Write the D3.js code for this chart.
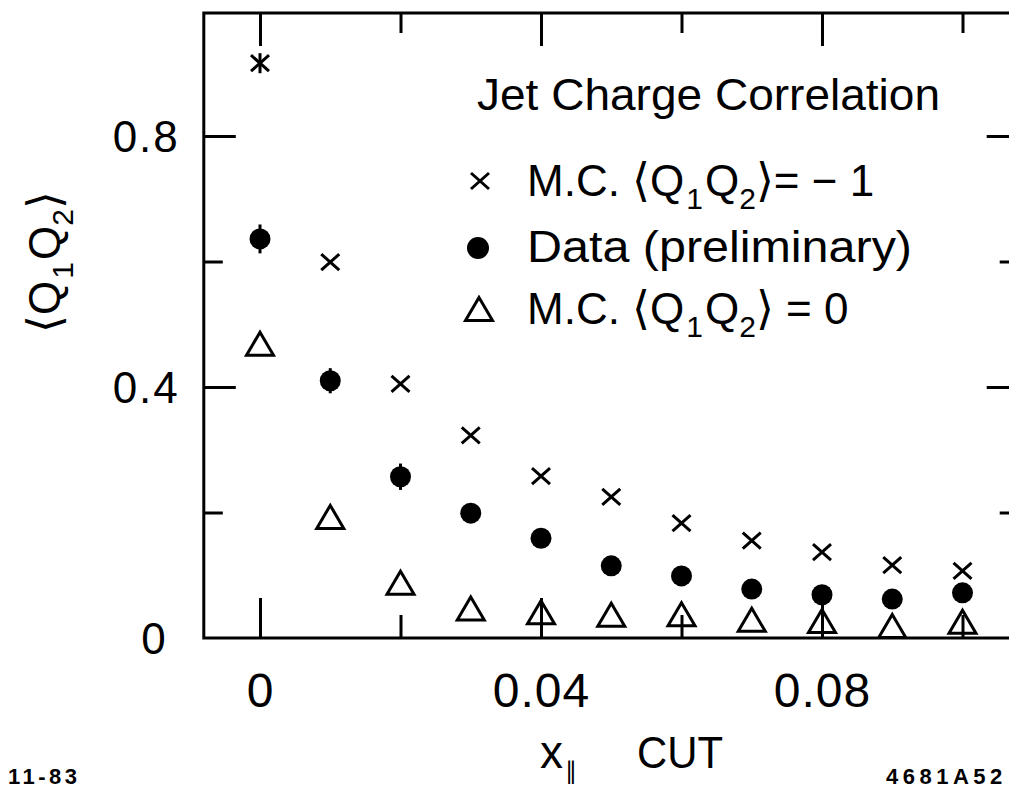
<!DOCTYPE html>
<html>
<head>
<meta charset="utf-8">
<script src="https://cdn.jsdelivr.net/npm/d3@7"></script>
<style>
  body { margin: 0; background: #fff; }
  svg { display: block; }
  text { fill: #000; font-family: "Liberation Sans", Arial, sans-serif; }
</style>
</head>
<body>
<svg id="chart" width="1009" height="789"></svg>
<script>
// x_parallel cut values
const xCut = [0, 0.01, 0.02, 0.03, 0.04, 0.05, 0.06, 0.07, 0.08, 0.09, 0.10];

// M.C. with <Q1Q2> = -1 (crosses)
const mcMinusOne    = [0.916, 0.599, 0.405, 0.323, 0.258, 0.225, 0.183, 0.155, 0.137, 0.116, 0.107];
const mcMinusOneErr = [0.016, 0, 0, 0, 0, 0, 0, 0, 0, 0, 0];

// Data, preliminary (filled circles)
const dataQQ  = [0.636, 0.410, 0.257, 0.199, 0.159, 0.115, 0.099, 0.078, 0.069, 0.062, 0.072];
const dataErr = [0.023, 0.020, 0.021, 0.014, 0.013, 0.012, 0.012, 0.012, 0.012, 0.012, 0.012];

// M.C. with <Q1Q2> = 0 (open triangles)
const mcZero = [0.469, 0.193, 0.088, 0.047, 0.041, 0.037, 0.038, 0.029, 0.027, 0.019, 0.026];

// Axis ticks and labels
const yMajorTicks = [0.4, 0.8];
const yMinorTicks = [0.2, 0.6];
const yLabelTicks = [0, 0.4, 0.8];
const xMajorTicks = [0, 0.04, 0.08];
const xMinorTicks = [0.02, 0.06, 0.10];
const xLabelTicks = [0, 0.04, 0.08];

const svg = d3.select("#chart");

const x = d3.scaleLinear().domain([0, 0.10]).range([260, 962.5]);
const y = d3.scaleLinear().domain([0, 0.8]).range([638, 136]);

// frame extents in data units
const xLo = -0.008, xHi = 0.108, yLo = 0, yHi = 0.996;
const fx0 = x(xLo), fx1 = x(xHi), fy0 = y(yLo), fy1 = y(yHi);

const fmt = d => d === 0 ? "0" : d3.format(".2~f")(d);

// --- tick marks (drawn first, markers sit over them) ---
function tickAxis(axis, transform) {
  const g = svg.append("g").attr("transform", transform).call(axis);
  g.select(".domain").remove();
  g.selectAll(".tick line").attr("stroke", "#000").attr("stroke-width", 3);
  g.selectAll(".tick text").remove();
  return g;
}
tickAxis(d3.axisLeft(y).tickValues(yMajorTicks).tickSize(-32), `translate(${fx0},0)`);
tickAxis(d3.axisLeft(y).tickValues(yMinorTicks).tickSize(-19), `translate(${fx0},0)`);
tickAxis(d3.axisRight(y).tickValues(yMajorTicks).tickSize(-32), `translate(${fx1},0)`);
tickAxis(d3.axisRight(y).tickValues(yMinorTicks).tickSize(-19), `translate(${fx1},0)`);
tickAxis(d3.axisTop(x).tickValues(xMajorTicks).tickSize(-33), `translate(0,${fy1})`);
tickAxis(d3.axisTop(x).tickValues(xMinorTicks).tickSize(-20), `translate(0,${fy1})`);
tickAxis(d3.axisBottom(x).tickValues(xMajorTicks).tickSize(-40), `translate(0,${fy0})`);
tickAxis(d3.axisBottom(x).tickValues(xMinorTicks).tickSize(-23), `translate(0,${fy0})`);

// frame
svg.append("rect")
  .attr("x", fx0).attr("y", fy1)
  .attr("width", fx1 - fx0).attr("height", fy0 - fy1)
  .attr("fill", "none").attr("stroke", "#000").attr("stroke-width", 3);

// --- tick labels ---
const yLab = svg.append("g").attr("transform", `translate(${fx0},0)`)
  .call(d3.axisLeft(y).tickValues(yLabelTicks).tickSize(0).tickPadding(24).tickFormat(fmt));
yLab.select(".domain").remove();
yLab.selectAll(".tick text")
  .attr("font-size", 44).attr("font-family", "Liberation Sans, Arial, sans-serif")
  .attr("letter-spacing", 2)
  .attr("dy", "0.36em")
  .attr("dx", d => d === 0 ? -12 : 0);

const xLab = svg.append("g").attr("transform", `translate(0,${fy0})`)
  .call(d3.axisBottom(x).tickValues(xLabelTicks).tickSize(0).tickPadding(35).tickFormat(fmt));
xLab.select(".domain").remove();
xLab.selectAll(".tick text")
  .attr("font-size", 48).attr("font-family", "Liberation Sans, Arial, sans-serif")
  .attr("letter-spacing", 1);

// --- markers ---
const crossPath = "M-9,-8L9,8M-9,8L9,-8";
const triPath = "M0,-11.5L13.5,11.5L-13.5,11.5Z";

const pts = xCut.map((c, i) => ({
  c, mc1: mcMinusOne[i], mc1e: mcMinusOneErr[i],
  d: dataQQ[i], de: dataErr[i], mc0: mcZero[i]
}));

const marks = svg.append("g");

// error bars
marks.selectAll("line.err-d").data(pts).join("line")
  .attr("x1", p => x(p.c)).attr("x2", p => x(p.c))
  .attr("y1", p => y(p.d - p.de)).attr("y2", p => y(p.d + p.de))
  .attr("stroke", "#000").attr("stroke-width", 3);
marks.selectAll("line.err-mc1").data(pts.filter(p => p.mc1e > 0)).join("line")
  .attr("x1", p => x(p.c)).attr("x2", p => x(p.c))
  .attr("y1", p => y(p.mc1 - p.mc1e)).attr("y2", p => y(p.mc1 + p.mc1e))
  .attr("stroke", "#000").attr("stroke-width", 3);

marks.selectAll("path.mc0").data(pts).join("path")
  .attr("d", triPath)
  .attr("transform", p => `translate(${x(p.c)},${y(p.mc0)})`)
  .attr("fill", "none").attr("stroke", "#000").attr("stroke-width", 3)
  .attr("stroke-linejoin", "miter");

marks.selectAll("circle.data").data(pts).join("circle")
  .attr("cx", p => x(p.c)).attr("cy", p => y(p.d)).attr("r", 10.5)
  .attr("fill", "#000");

marks.selectAll("path.mc1").data(pts).join("path")
  .attr("d", crossPath)
  .attr("transform", p => `translate(${x(p.c)},${y(p.mc1)})`)
  .attr("fill", "none").attr("stroke", "#000").attr("stroke-width", 3);

// --- legend ---
const lg = svg.append("g");
const bracket = "DejaVu Sans, sans-serif";

lg.append("text").attr("x", 477).attr("y", 110).attr("font-size", 44)
  .attr("textLength", 463).attr("lengthAdjust", "spacingAndGlyphs")
  .text("Jet Charge Correlation");

lg.append("path").attr("d", crossPath).attr("transform", "translate(480,181)")
  .attr("fill", "none").attr("stroke", "#000").attr("stroke-width", 3);
lg.append("circle").attr("cx", 478).attr("cy", 248).attr("r", 11).attr("fill", "#000");
lg.append("path").attr("d", triPath).attr("transform", "translate(479,309)")
  .attr("fill", "none").attr("stroke", "#000").attr("stroke-width", 3);

function qq(t, tail) {
  t.append("tspan").text("M.C. ");
  t.append("tspan").attr("font-family", bracket).attr("font-size", 46).text("⟨");
  t.append("tspan").text("Q");
  t.append("tspan").attr("font-size", 30).attr("dy", 13).attr("dx", 2).text("1");
  t.append("tspan").attr("dy", -13).attr("dx", 2).text("Q");
  t.append("tspan").attr("font-size", 30).attr("dy", 13).text("2");
  t.append("tspan").attr("font-family", bracket).attr("font-size", 46).attr("dy", -13).text("⟩");
  t.append("tspan").text(tail);
}
const row1 = lg.append("text").attr("x", 527).attr("y", 196).attr("font-size", 44);
qq(row1, "= − 1");
lg.append("text").attr("x", 527).attr("y", 262).attr("font-size", 44)
  .attr("textLength", 385).attr("lengthAdjust", "spacingAndGlyphs")
  .text("Data (preliminary)");
const row3 = lg.append("text").attr("x", 527).attr("y", 324).attr("font-size", 44);
qq(row3, " = 0");

// --- axis titles ---
const yt = svg.append("text").attr("transform", "translate(60,262) rotate(-90)")
  .attr("text-anchor", "middle").attr("font-size", 44);
yt.append("tspan").attr("font-family", bracket).attr("font-size", 46).text("⟨");
yt.append("tspan").text("Q");
yt.append("tspan").attr("font-size", 30).attr("dy", 13).attr("dx", 2).text("1");
yt.append("tspan").attr("dy", -13).attr("dx", 2).text("Q");
yt.append("tspan").attr("font-size", 30).attr("dy", 13).text("2");
yt.append("tspan").attr("font-family", bracket).attr("font-size", 46).attr("dy", -13).text("⟩");

const xt = svg.append("text").attr("x", 540).attr("y", 768).attr("font-size", 46);
xt.append("tspan").text("x");
xt.append("tspan").attr("font-family", bracket).attr("font-size", 24).attr("dy", 11).attr("dx", 2).text("∥");
xt.append("tspan").attr("dy", -11).attr("x", 637).attr("font-size", 44)
  .attr("textLength", 86).attr("lengthAdjust", "spacingAndGlyphs").text("CUT");

// --- plate codes ---
svg.append("text").attr("x", 8).attr("y", 784).attr("font-size", 22)
  .attr("font-weight", "bold").attr("letter-spacing", 3.5).text("11-83");
svg.append("text").attr("x", 886).attr("y", 784).attr("font-size", 22)
  .attr("font-weight", "bold").attr("letter-spacing", 4.5).text("4681A52");
</script>
</body>
</html>
